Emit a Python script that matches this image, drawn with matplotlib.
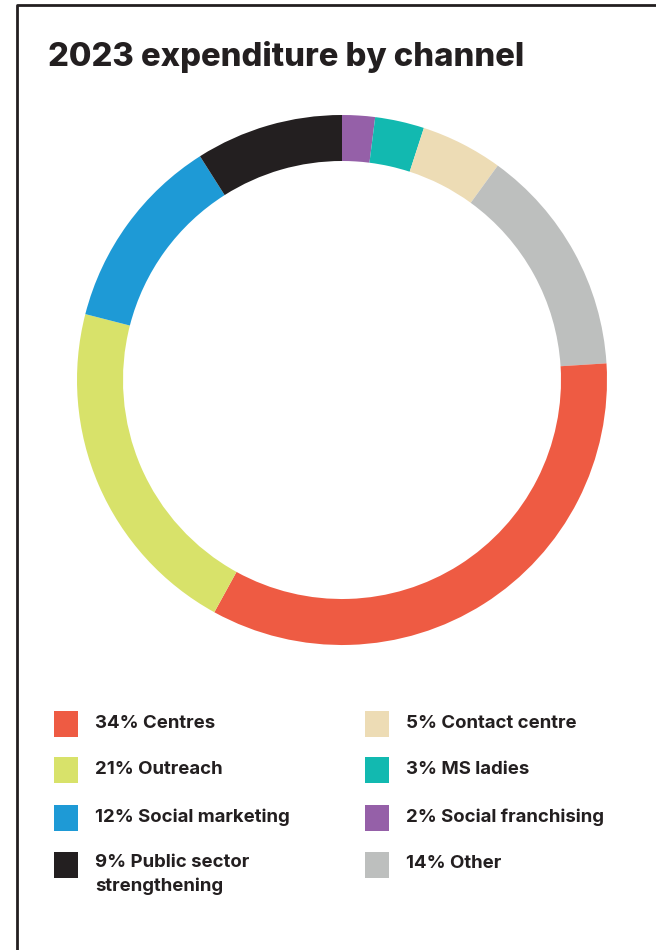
import matplotlib.pyplot as plt
import matplotlib.patches as mpatches
from matplotlib.lines import Line2D

# data (clockwise from 12 o'clock)
channels = ["Social franchising", "MS ladies", "Contact centre", "Other",
            "Centres", "Outreach", "Social marketing", "Public sector\nstrengthening"]
shares = [2, 3, 5, 14, 34, 21, 12, 9]
colours = ["#9560A8", "#12B9B0", "#EDDCB5", "#BDBFBE",
           "#EE5B43", "#D8E26A", "#1E9AD6", "#231F20"]

# legend order: column 1 then column 2
legend_order = [4, 5, 6, 7, 2, 1, 0, 3]

W, H = 656, 950
fig = plt.figure(figsize=(W / 100, H / 100), dpi=100)
plt.rcParams['font.family'] = ['Inter', 'DejaVu Sans']
ink = "#231F20"

# frame (left + top)
fig.add_artist(Line2D([17 / W, 17 / W, 1], [0, 1 - 5 / H, 1 - 5 / H],
                      transform=fig.transFigure, color=ink, lw=2))

fig.text(48 / W, 1 - 66 / H, "2023 expenditure by channel", fontsize=23.6,
         fontweight='heavy', color=ink, ha='left', va='baseline')

# donut
cx, cy, r = 342, 380, 265
ax = fig.add_axes([(cx - r) / W, (H - cy - r) / H, 2 * r / W, 2 * r / H])
ax.pie(shares, colors=colours, startangle=90, counterclock=False, radius=1,
       wedgeprops=dict(width=46 / r, edgecolor='none', linewidth=0))
ax.set_xlim(-1, 1)
ax.set_ylim(-1, 1)
ax.set_aspect('equal')
ax.axis('off')

# legend
col_x = [54, 365]
row_y = [724, 770, 818, 865]
for k, i in enumerate(legend_order):
    col, row = divmod(k, 4)
    x0 = col_x[col]
    yc = row_y[row]
    fig.add_artist(mpatches.Rectangle((x0 / W, (H - yc - 13) / H), 24 / W, 26 / H,
                                      transform=fig.transFigure, color=colours[i], lw=0))
    label = f"{shares[i]}% {channels[i]}"
    if '\n' in label:
        fig.text((x0 + 41) / W, (H - yc + 11) / H, label, fontsize=13.4,
                 fontweight='bold', color=ink, ha='left', va='top', linespacing=1.5)
    else:
        fig.text((x0 + 41) / W, (H - yc + 1) / H, label, fontsize=13.4,
                 fontweight='bold', color=ink, ha='left', va='center')

fig.savefig("out.png", dpi=100, facecolor='white')
